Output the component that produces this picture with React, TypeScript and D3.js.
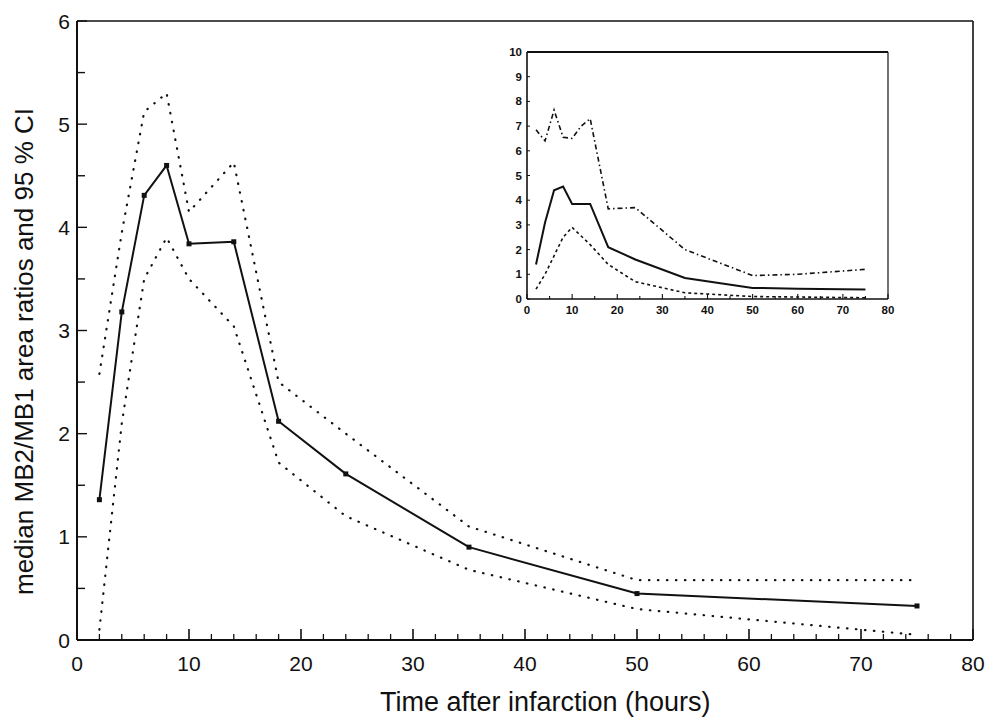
import { useEffect, useRef } from 'react';
import * as d3 from 'd3';

// main panel data (hours after infarction)
const hours = [2, 4, 6, 8, 10, 14, 18, 24, 35, 50, 75];
const median = [1.36, 3.18, 4.31, 4.6, 3.84, 3.86, 2.12, 1.61, 0.9, 0.45, 0.33];
const upperCI = [2.58, 3.95, 5.12, 5.3, 4.15, 4.63, 2.5, 2.0, 1.1, 0.58, 0.58];
const lowerCI = [0.1, 2.1, 3.5, 3.9, 3.5, 3.04, 1.72, 1.2, 0.68, 0.3, 0.05];

// inset panel data
const insetHours = [2, 4, 6, 8, 10, 12, 14, 18, 24, 35, 50, 60, 75];
const insetUpper = [6.85, 6.4, 7.65, 6.55, 6.5, 7.0, 7.3, 3.65, 3.7, 2.0, 0.95, 1.0, 1.2];
const insetMedian = [1.4, 3.1, 4.4, 4.55, 3.85, 3.85, 3.85, 2.1, 1.6, 0.85, 0.45, 0.42, 0.38];
const insetLower = [0.4, 1.0, 1.75, 2.5, 2.9, 2.55, 2.2, 1.4, 0.7, 0.25, 0.1, 0.08, 0.05];

const xTicks = [0, 10, 20, 30, 40, 50, 60, 70, 80];
const yTicks = [0, 1, 2, 3, 4, 5, 6];
const insetYTicks = [0, 1, 2, 3, 4, 5, 6, 7, 8, 9, 10];

const xLabel = "Time after infarction (hours)";
const yLabel = "median MB2/MB1 area ratios and 95 % CI";

const INK = "#111";
const FONT = "'Liberation Sans', Arial, sans-serif";

export default function App() {
  const svgRef = useRef<SVGSVGElement>(null);

  useEffect(() => {
    if (!svgRef.current) return;
    const svg = d3.select(svgRef.current);
    svg.selectAll("*").remove();

    svg.append("rect").attr("width", 994).attr("height", 720).attr("fill", "#fff");

    // ---- main panel ----
    const x = d3.scaleLinear().domain([0, 80]).range([77, 973]);
    const y = d3.scaleLinear().domain([0, 6]).range([640, 21]);

    const g = svg.append("g");

    // frame
    g.append("line").attr("x1", x(0)).attr("x2", x(80)).attr("y1", y(0)).attr("y2", y(0))
      .attr("stroke", INK).attr("stroke-width", 2);
    g.append("line").attr("x1", x(0)).attr("x2", x(0)).attr("y1", y(0)).attr("y2", y(6))
      .attr("stroke", INK).attr("stroke-width", 2);
    g.append("line").attr("x1", x(0)).attr("x2", x(80)).attr("y1", y(6)).attr("y2", y(6))
      .attr("stroke", INK).attr("stroke-width", 1.4);
    g.append("line").attr("x1", x(80)).attr("x2", x(80)).attr("y1", y(0)).attr("y2", y(6))
      .attr("stroke", INK).attr("stroke-width", 1.6);

    // x ticks (inward)
    d3.range(0, 81, 2).forEach((t: number) => {
      const major = t % 10 === 0;
      g.append("line")
        .attr("x1", x(t)).attr("x2", x(t))
        .attr("y1", y(0)).attr("y2", y(0) - (major ? 11 : 6))
        .attr("stroke", INK).attr("stroke-width", major ? 1.6 : 1.3);
    });
    xTicks.forEach((t) => {
      g.append("text")
        .attr("x", x(t)).attr("y", y(0) + 31)
        .attr("text-anchor", "middle")
        .attr("font-family", FONT).attr("font-size", 21).attr("fill", INK)
        .text(t);
    });

    // y ticks (inward)
    d3.range(0, 6.01, 0.5).forEach((t: number) => {
      g.append("line")
        .attr("x1", x(0)).attr("x2", x(0) + (t % 1 === 0 ? 10 : 8))
        .attr("y1", y(t)).attr("y2", y(t))
        .attr("stroke", INK).attr("stroke-width", 1.4);
    });
    yTicks.forEach((t) => {
      g.append("text")
        .attr("x", 70).attr("y", y(t))
        .attr("text-anchor", "end").attr("dominant-baseline", "central")
        .attr("font-family", FONT).attr("font-size", 21).attr("fill", INK)
        .text(t);
    });

    // axis titles
    g.append("text")
      .attr("x", 380).attr("y", 711)
      .attr("text-anchor", "start")
      .attr("font-family", FONT).attr("font-size", 27).attr("fill", INK)
      .text(xLabel);
    g.append("text")
      .attr("transform", `translate(33, ${y(3) + 21}) rotate(-90)`)
      .attr("text-anchor", "middle")
      .attr("font-family", FONT).attr("font-size", 26).attr("fill", INK)
      .text(yLabel);

    const line = (xs: number[], ys: number[], sx: any, sy: any) =>
      d3.line<number>().x((_, i) => sx(xs[i])).y((d) => sy(d))(ys) as string;

    // CI bands (dotted)
    [upperCI, lowerCI].forEach((s) => {
      g.append("path")
        .attr("d", line(hours, s, x, y))
        .attr("fill", "none").attr("stroke", INK)
        .attr("stroke-width", 2.2).attr("stroke-linecap", "round")
        .attr("stroke-dasharray", "0.5,8.5");
    });

    // median
    g.append("path")
      .attr("d", line(hours, median, x, y))
      .attr("fill", "none").attr("stroke", INK)
      .attr("stroke-width", 2).attr("stroke-linejoin", "round");
    hours.forEach((h, i) => {
      g.append("rect")
        .attr("x", x(h) - 2.5).attr("y", y(median[i]) - 2.5)
        .attr("width", 5).attr("height", 5).attr("fill", INK);
    });

    // ---- inset panel ----
    const ix = d3.scaleLinear().domain([0, 80]).range([527, 888]);
    const iy = d3.scaleLinear().domain([0, 10]).range([299, 52]);
    const ig = svg.append("g");

    ig.append("rect").attr("x", ix(0)).attr("y", iy(10))
      .attr("width", ix(80) - ix(0)).attr("height", iy(0) - iy(10)).attr("fill", "#fff");
    ig.append("line").attr("x1", ix(0)).attr("x2", ix(80)).attr("y1", iy(0)).attr("y2", iy(0))
      .attr("stroke", INK).attr("stroke-width", 1.6);
    ig.append("line").attr("x1", ix(0)).attr("x2", ix(0)).attr("y1", iy(0)).attr("y2", iy(10))
      .attr("stroke", INK).attr("stroke-width", 1.6);
    ig.append("line").attr("x1", ix(0)).attr("x2", ix(80)).attr("y1", iy(10)).attr("y2", iy(10))
      .attr("stroke", INK).attr("stroke-width", 2.2);
    ig.append("line").attr("x1", ix(80)).attr("x2", ix(80)).attr("y1", iy(0)).attr("y2", iy(10))
      .attr("stroke", INK).attr("stroke-width", 1.2);

    d3.range(0, 81, 5).forEach((t: number) => {
      ig.append("line")
        .attr("x1", ix(t)).attr("x2", ix(t))
        .attr("y1", iy(0)).attr("y2", iy(0) - (t % 10 === 0 ? 5 : 3))
        .attr("stroke", INK).attr("stroke-width", 1.1);
    });
    xTicks.forEach((t) => {
      ig.append("text")
        .attr("x", ix(t)).attr("y", iy(0) + 15)
        .attr("text-anchor", "middle")
        .attr("font-family", FONT).attr("font-size", 11.5).attr("font-weight", "bold").attr("fill", INK)
        .text(t);
    });
    insetYTicks.forEach((t) => {
      ig.append("line")
        .attr("x1", ix(0)).attr("x2", ix(0) + 3)
        .attr("y1", iy(t)).attr("y2", iy(t))
        .attr("stroke", INK).attr("stroke-width", 1);
      ig.append("text")
        .attr("x", ix(0) - 5).attr("y", iy(t))
        .attr("text-anchor", "end").attr("dominant-baseline", "central")
        .attr("font-family", FONT).attr("font-size", 11.5).attr("font-weight", "bold").attr("fill", INK)
        .text(t);
    });

    ig.append("path")
      .attr("d", line(insetHours, insetUpper, ix, iy))
      .attr("fill", "none").attr("stroke", INK).attr("stroke-width", 1.6)
      .attr("stroke-dasharray", "5,3,1.5,3");
    ig.append("path")
      .attr("d", line(insetHours, insetLower, ix, iy))
      .attr("fill", "none").attr("stroke", INK).attr("stroke-width", 1.6)
      .attr("stroke-dasharray", "3,3");
    ig.append("path")
      .attr("d", line(insetHours, insetMedian, ix, iy))
      .attr("fill", "none").attr("stroke", INK).attr("stroke-width", 2);
  }, []);

  return (
    <div style={{ position: "absolute", left: 0, top: 0 }}>
      <svg ref={svgRef} width={994} height={720} style={{ display: "block" }} />
    </div>
  );
}
